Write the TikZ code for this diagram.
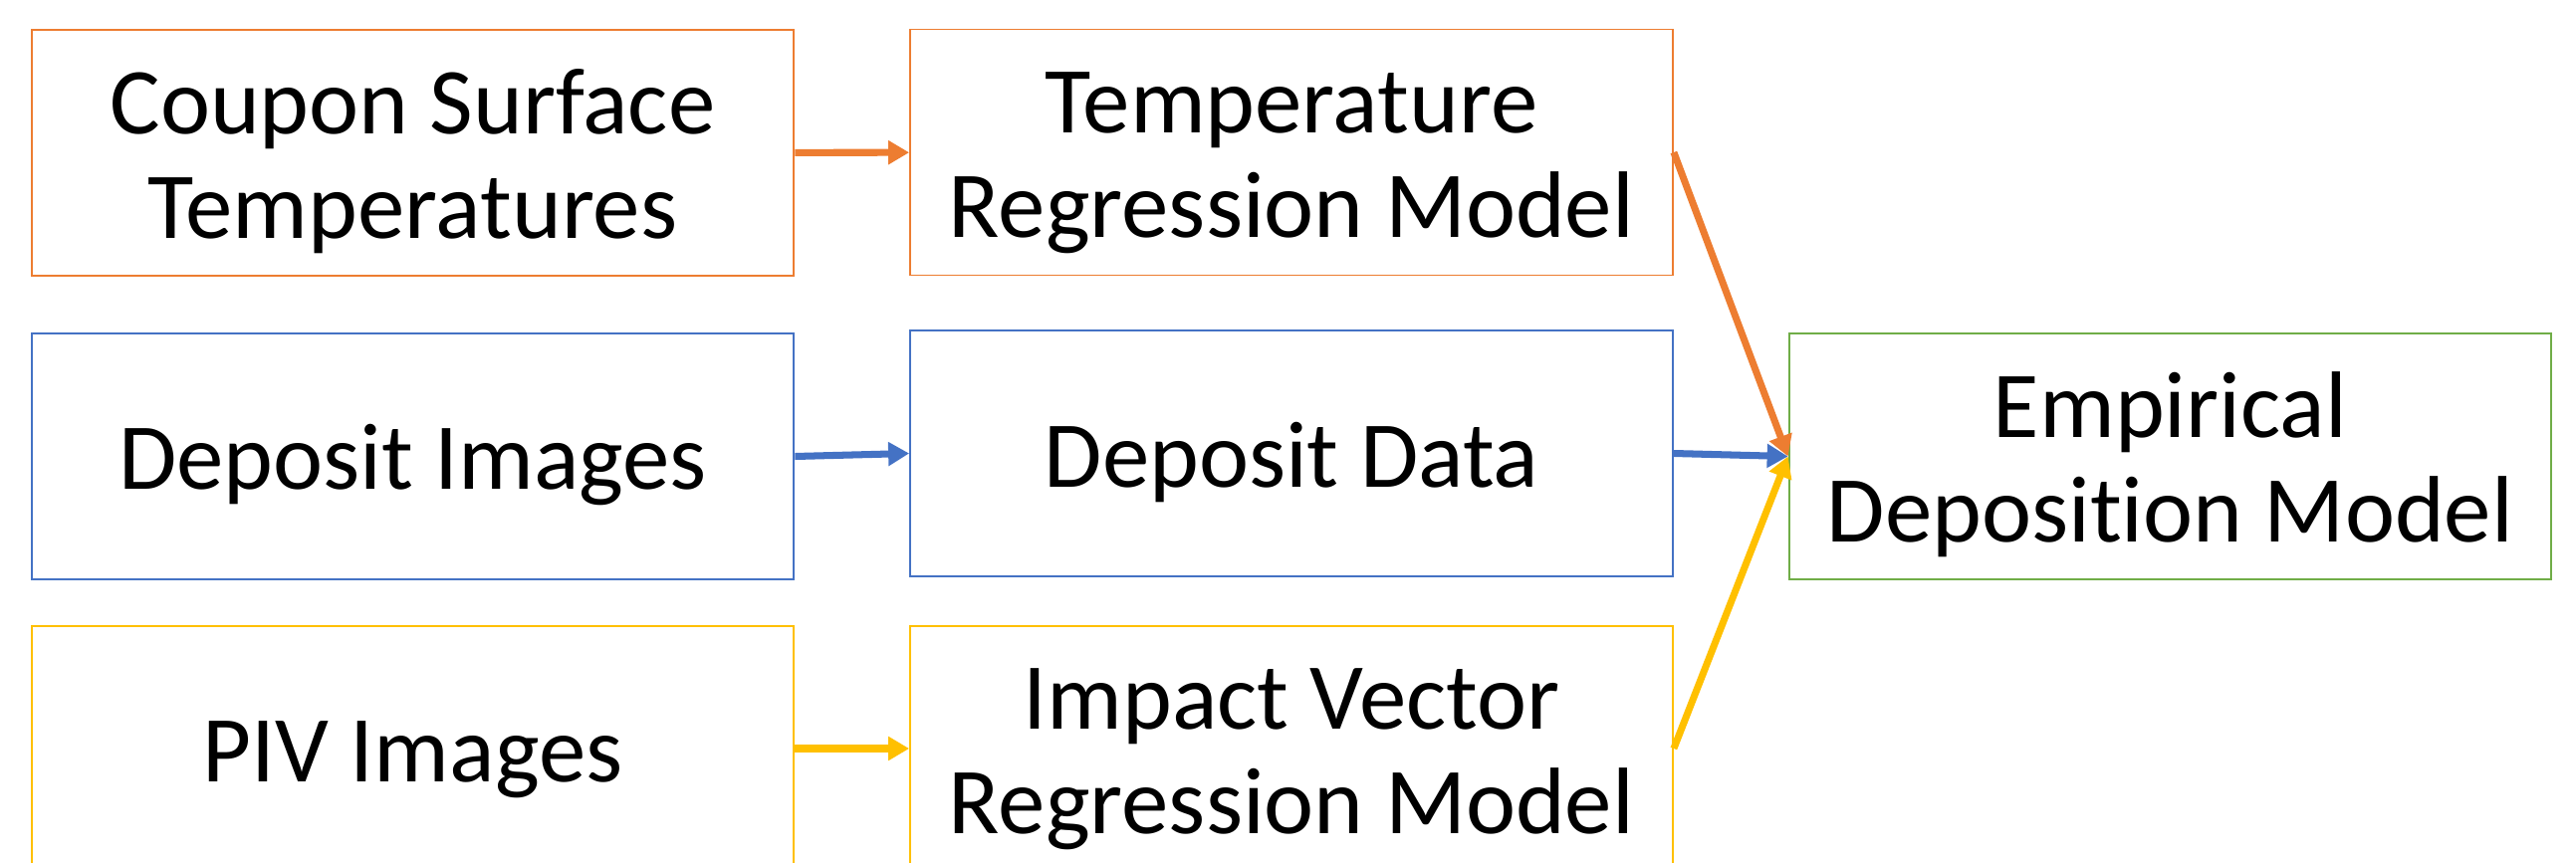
\documentclass[tikz,border=0pt]{standalone}
\usepackage{fontspec}
\setmainfont{Carlito}[Ligatures={CommonOff,ContextualOff}, RawFeature={-liga;-clig;-calt;-dlig}]
\usetikzlibrary{arrows.meta}

\definecolor{tempcol}{HTML}{ED7D31}
\definecolor{depcol}{HTML}{4472C4}
\definecolor{pivcol}{HTML}{FFC000}
\definecolor{modelcol}{HTML}{70AD47}

\newcommand{\toppad}{\rule{0pt}{47pt}}

\tikzset{
  stage/.style={draw, line width=1.1pt, minimum width=15.32cm, minimum height=4.94cm,
    inner sep=0pt, align=center, font=\fontsize{54}{60}\selectfont},
  flow/.style={line width=4pt, -{Triangle[length=0.42cm, width=0.46cm]}},
}

\begin{document}
\begin{tikzpicture}[x=0.02cm, y=-0.02cm]
    \useasboundingbox (0,0) rectangle (2587,866);
    \clip (0,0) rectangle (2587,866);
    \node[stage, draw=tempcol] (coupon) at (414.5,153.5) {\toppad Coupon Surface\\Temperatures};
    \node[stage, draw=tempcol] (tempreg) at (1297,153) {\toppad Temperature\\Regression Model};
    \node[stage, draw=depcol] (depimg) at (414.5,458.5) {\toppad Deposit Images};
    \node[stage, draw=depcol] (depdata) at (1297,455.5) {\toppad Deposit Data};
    \node[stage, draw=pivcol] (pivimg) at (414.5,752) {\toppad PIV Images};
    \node[stage, draw=pivcol] (impreg) at (1297,752) {\toppad Impact Vector\\Regression Model};
    \node[stage, draw=modelcol] (empmodel) at (2179.5,458.5) {\toppad Empirical\\Deposition Model};
    \draw[flow, color=tempcol] (coupon) -- (tempreg);
    \draw[flow, color=depcol] (depimg.east) -- (depdata.west);
    \draw[flow, color=pivcol] (pivimg) -- (impreg);
    \draw[flow, color=tempcol] (tempreg.east) -- (empmodel.west);
    \draw[flow, color=depcol] (depdata.east) -- (empmodel.west);
    \draw[flow, color=pivcol] (impreg.east) -- (empmodel.west);
\end{tikzpicture}
\end{document}
